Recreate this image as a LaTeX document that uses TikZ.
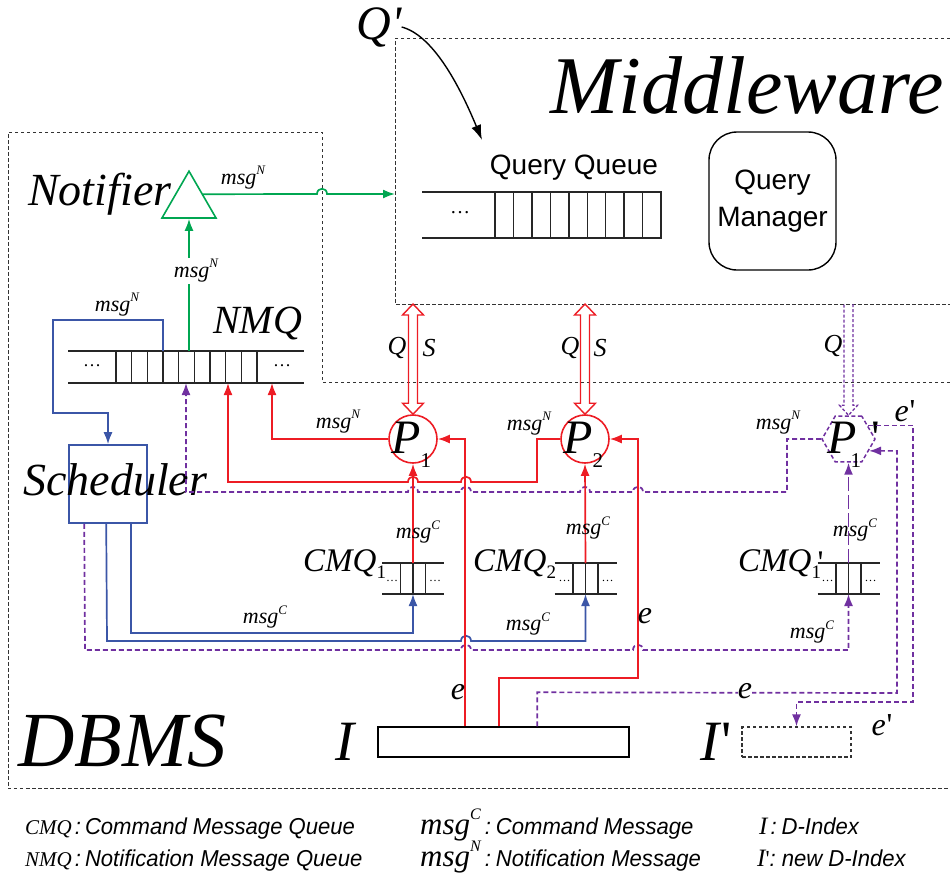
\documentclass[tikz,border=0pt]{standalone}
\usepackage{fontspec}
\setmainfont{Liberation Serif}
\setsansfont{Liberation Sans}
\newfontfamily\legendfont[FakeStretch=0.96]{Liberation Sans}
\usepackage{tikz}
\usetikzlibrary{
    positioning,
    calc,
    shapes.geometric,
    arrows.meta
}
\definecolor{dbred}{RGB}{237,28,36}
\definecolor{dbgreen}{RGB}{0,166,81}
\definecolor{dbblue}{RGB}{59,86,167}
\definecolor{dbpurple}{RGB}{112,48,160}

\newcommand{\fs}[1]{\fontsize{#1}{#1}\selectfont}
\newcommand{\msgl}[1]{\textit{msg}\raisebox{0.45em}{\fs{13}\textit{#1}}}
\newcommand{\prm}{\textquotesingle}
\newcommand{\legtxt}[1]{{\legendfont\fs{23}\itshape #1}}

\tikzset{
    >={Latex[length=12pt,width=9pt]},
    boxframe/.style={draw=black!80, line width=0.9pt, dash pattern=on 3.5pt off 2.5pt},
    qline/.style={draw=black!85, line width=1.4pt},
    redline/.style={draw=dbred, line width=1.7pt},
    greenline/.style={draw=dbgreen, line width=1.7pt},
    blueline/.style={draw=dbblue, line width=1.7pt},
    purpleline/.style={draw=dbpurple, line width=1.7pt, dash pattern=on 5pt off 3pt},
    qnode/.style={inner sep=0pt, outer sep=0pt},
    qdots/.style={font=\fs{16}, inner sep=0pt},
    lbl/.style={font=\fs{22}\itshape, inner sep=1pt},
    bigtxt/.style={font=\fs{#1}\itshape, inner sep=0pt}
}

% flecha doble Q/S
\newcommand{\qsarrow}[2]{%
    \draw[redline, line width=1.4pt] let \p1=(#1), \p2=(#2) in
        (\x1,\y1) -- (\x1+10.5pt,\y1-11pt) -- (\x1+4.5pt,\y1-11pt)
        -- (\x2+4.5pt,\y2+11pt) -- (\x2+10.5pt,\y2+11pt) -- (\x2,\y2)
        -- (\x2-10.5pt,\y2+11pt) -- (\x2-4.5pt,\y2+11pt)
        -- (\x1-4.5pt,\y1-11pt) -- (\x1-10.5pt,\y1-11pt) -- cycle;}

\begin{document}
\begin{tikzpicture}[
    x=1pt,
    y=-1pt
]
    \useasboundingbox (0,0) rectangle (950,876);

    % Marcos
    \draw[boxframe] (950,38) -- (395,38) -- (395,304) -- (950,304);
    \draw[boxframe] (950,382) -- (322,382) -- (322,132) -- (8,132) -- (8,788) -- (950,788);
    \coordinate (mwin) at (395,194);
    \coordinate (mwb)  at (395,304);

    \node[bigtxt=82, anchor=base west] (mwtxt) at (550,113) {Middleware};
    \node[bigtxt=78, anchor=base west] (dbtxt) at (18,766) {DBMS};

    % Query Queue y Query Manager
    \node[qnode, minimum width=239, minimum height=46] (qq) at (541.5,215) {};
    \draw[qline] (qq.north west) -- (qq.north east) -- (qq.south east) -- (qq.south west);
    \foreach \i in {1,...,9}
        \draw[qline] ($(qq.north east)+(-\i*18.44,0)$) -- ($(qq.south east)+(-\i*18.44,0)$);
    \node[qdots, font=\fs{20}] (qqdots) at (460,213) {\dots};
    \node[font=\sffamily\fs{28}, anchor=base] (qqtxt) at (574,174) {Query Queue};

    \node[draw, line width=1.4pt, rounded corners=28pt, minimum width=127, minimum height=138,
          align=center, font=\sffamily\fontsize{28}{37}\selectfont] (qm) at (772.5,201) {Query\\Manager};

    \node[bigtxt=48] (qp) at (379,27) {Q\prm};
    \coordinate (qqin) at (482,140);
    \draw[line width=1.4pt, -{Latex[length=15pt,width=10pt]}] (qp.east) .. controls (432,35) and (458,82) .. (qqin);

    % Notifier
    \node[regular polygon, regular polygon sides=3, draw=dbgreen, line width=1.6pt,
          minimum size=62.4, inner sep=0pt] (notif) at (189,202.4) {};
    \node[bigtxt=46, anchor=base west] (notiftxt) at (28,205) {Notifier};

    % NMQ
    \node[qnode, minimum width=236, minimum height=32] (nmq) at (186,367) {};
    \draw[qline] (nmq.north west) -- (nmq.north east) (nmq.south west) -- (nmq.south east);
    \foreach \i in {0,...,9}
        \draw[qline] ($(nmq.north west)+(48+\i*15.67,0)$) -- ($(nmq.south west)+(48+\i*15.67,0)$);
    \node[qdots, font=\fs{18}] (nmqdl) at (92,366) {\dots};
    \node[qdots, font=\fs{18}] (nmqdr) at (282,366) {\dots};
    \node[bigtxt=40, anchor=base west] (nmqtxt) at (213,333) {NMQ};

    % Scheduler
    \node[draw=dbblue, line width=1.6pt, minimum width=78, minimum height=78, inner sep=0pt] (sched) at (108,484) {};
    \node[bigtxt=46, anchor=base west] (schedtxt) at (23,495) {Scheduler};

    % Procesos
    \node[circle, draw=dbred, line width=1.6pt, minimum size=48, inner sep=0pt] (p1) at (413,439) {};
    \node[circle, draw=dbred, line width=1.6pt, minimum size=48, inner sep=0pt] (p2) at (585,439) {};
    \node[regular polygon, regular polygon sides=6, draw=dbpurple, line width=1.5pt,
          dash pattern=on 4pt off 2.5pt, minimum size=53, inner sep=0pt] (p1d) at (848.5,439) {};

    \node[anchor=base west, inner sep=0pt] (p1txt) at (391,453)
        {\fs{48}\itshape P\raisebox{-14pt}{\fs{21}\upshape 1}};
    \node[anchor=base west, inner sep=0pt] (p2txt) at (563,453)
        {\fs{48}\itshape P\raisebox{-14pt}{\fs{21}\upshape 2}};
    \node[anchor=base west, inner sep=0pt] (p1dtxt) at (827,453)
        {\fs{48}\itshape P\kern-6pt\raisebox{-14pt}{\fs{21}\upshape 1}\kern10pt{\upshape\prm}};

    % Colas de comandos
    \foreach \q/\x in {cmq1/413, cmq2/585.5, cmq1d/848.5} {
        \node[qnode, minimum width=62, minimum height=31] (\q) at (\x,578.5) {};
        \draw[qline] (\q.north west) -- (\q.north east) (\q.south west) -- (\q.south east)
            ($(\q.north)+(-12.5,0)$) -- ($(\q.south)+(-12.5,0)$)
            (\q.north) -- (\q.south)
            ($(\q.north)+(12.5,0)$) -- ($(\q.south)+(12.5,0)$);
        \node[qdots, font=\fs{12}] (\q dl) at ($(\q)+(-21,2)$) {\dots};
        \node[qdots, font=\fs{12}] (\q dr) at ($(\q)+(22,2)$) {\dots};
    }
    \node[bigtxt=33, anchor=base west] (cmq1txt) at (303,571) {CMQ\raisebox{-7pt}{\fs{19}\upshape 1}};
    \node[bigtxt=33, anchor=base west] (cmq2txt) at (473,571) {CMQ\raisebox{-7pt}{\fs{19}\upshape 2}};
    \node[bigtxt=33, anchor=base west] (cmq1dtxt) at (738,571)
        {CMQ\rlap{\raisebox{-7pt}{\fs{19}\upshape 1}}\kern6pt\raisebox{-2pt}{\upshape\prm}};

    % Indices
    \node[draw, line width=1.4pt, minimum width=251, minimum height=30, inner sep=0pt] (idx) at (503.5,742) {};
    \node[boxframe, line width=1.3pt, minimum width=109, minimum height=30, inner sep=0pt] (idxd) at (796.5,742) {};
    \node[bigtxt=57, anchor=base west] (idxtxt) at (335,760) {I};
    \node[bigtxt=57, anchor=base west] (idxdtxt) at (700,760) {I\kern2pt{\upshape\prm}};

    % Flechas Q/S
    \qsarrow{p1.north |- mwb}{p1.north}
    \qsarrow{p2.north |- mwb}{p2.north}
    \draw[draw=dbpurple, line width=1.3pt, dash pattern=on 3pt off 2pt]
        let \p1=(p1d.north |- mwb), \p2=(p1d.north) in
        (\x1+4.5pt,\y1) -- (\x2+4.5pt,\y2+10pt) -- (\x2+9pt,\y2+10pt) -- (\x2,\y2)
        -- (\x2-9pt,\y2+10pt) -- (\x2-4.5pt,\y2+10pt) -- (\x1-4.5pt,\y1);

    \node[bigtxt=26] (q1l) at (397,348) {Q};
    \node[bigtxt=26] (s1l) at (429,348) {S};
    \node[bigtxt=26] (q2l) at (570,348) {Q};
    \node[bigtxt=26] (s2l) at (600,348) {S};
    \node[bigtxt=26] (q3l) at (833,346) {Q};

    % Notificaciones
    \draw[greenline, ->] (notif.30) -- (317,194)
        .. controls (317,187) and (327,187) .. (327,194) -- (mwin);
    \draw[greenline, ->] (notif.south |- nmq.north) -- (notif.south);
    \draw[blueline, ->] ($(nmq.north west)+(95,0)$) -- (163,320) -- (53,320) -- (53,413) -| (sched.north);

    \draw[redline, ->] (p1.west) -| ($(nmq.south west)+(204,0)$);
    \draw[redline, ->] (p2.west) -- (537,439) -- (537,482)
        -- (471,482) .. controls (471,475) and (461,475) .. (461,482)
        -- (418,482) .. controls (418,475) and (408,475) .. (408,482)
        -| ($(nmq.south west)+(160,0)$);
    \draw[purpleline, ->] (p1d.west) -- (787,439) -- (787,492)
        -- (643,492) .. controls (643,485) and (633,485) .. (633,492)
        -- (590,492) .. controls (590,485) and (580,485) .. (580,492)
        -- (471,492) .. controls (471,485) and (461,485) .. (461,492)
        -- (418,492) .. controls (418,485) and (408,485) .. (408,492)
        -| ($(nmq.south west)+(118,0)$);

    % Comandos
    \draw[redline, ->] (cmq1.north) -- (p1.south);
    \draw[redline, ->] (cmq2.north) -- (p2.south);
    \draw[purpleline, dash pattern=on 14pt off 4pt, ->] (cmq1d.north) -- (p1d.south);

    \draw[blueline, ->] ($(sched.south west)+(63,0)$) |- ($(cmq1.south)+(0,39)$) -- (cmq1.south);
    \draw[blueline, ->] ($(sched.south west)+(38,0)$) -- (107,641)
        -- (461,641) .. controls (461,634) and (471,634) .. (471,641)
        -| (cmq2.south);
    \draw[purpleline, ->] ($(sched.south west)+(16,0)$) -- (85,650)
        -- (461,650) .. controls (461,643) and (471,643) .. (471,650)
        -- (633,650) .. controls (633,643) and (643,643) .. (643,650)
        -| (cmq1d.south);

    % Entradas del indice
    \draw[redline, ->] ($(idx.north west)+(88,0)$) |- (p1.east);
    \draw[redline, ->] ($(idx.north west)+(122,0)$) -- ++(0,-48) -| (638,439) -- (p2.east);
    \draw[purpleline, ->] ($(idx.north west)+(160,0)$) -- ++(0,-34) -- (897,693) |- (p1d.-30);
    \draw[purpleline, ->] (p1d.35) -| (913,702) -| (idxd.north);

    % Etiquetas
    \node[lbl] (m1) at (243,178) {\msgl{N}};
    \node[lbl, fill=white] (m2) at (196,271) {\msgl{N}};
    \node[lbl] (m3) at (117,305) {\msgl{N}};
    \node[lbl] (m4) at (338,422) {\msgl{N}};
    \node[lbl] (m5) at (529,424) {\msgl{N}};
    \node[lbl] (m6) at (778,423) {\msgl{N}};
    \node[lbl] (m7) at (418,532) {\msgl{C}};
    \node[lbl] (m8) at (588,528) {\msgl{C}};
    \node[lbl] (m9) at (855,530) {\msgl{C}};
    \node[lbl] (m10) at (265,617) {\msgl{C}};
    \node[lbl] (m11) at (528,624) {\msgl{C}};
    \node[lbl] (m12) at (812,632) {\msgl{C}};
    \node[bigtxt=32] (e1) at (458,692) {e};
    \node[bigtxt=32] (e2) at (645,616) {e};
    \node[bigtxt=32, fill=white] (e3) at (745,691) {e};
    \node[bigtxt=32] (e4) at (905,411) {e\kern1pt{\upshape\prm}};
    \node[bigtxt=32] (e5) at (882,725) {e\kern1pt{\upshape\prm}};

    % Leyenda
    \node[anchor=base west, inner sep=0pt] (leg1) at (25,834)
        {{\fs{21}\itshape CMQ}\kern3pt\legtxt{:\kern4pt Command Message Queue}};
    \node[anchor=base west, inner sep=0pt] (leg2) at (25,866)
        {{\fs{21}\itshape NMQ}\kern3pt\legtxt{:\kern4pt Notification Message Queue}};
    \node[anchor=base west, inner sep=0pt] (leg3) at (420,834)
        {{\fs{31}\itshape msg}\raisebox{15pt}{\fs{16}\itshape C}\kern4pt\legtxt{:\kern5pt Command Message}};
    \node[anchor=base west, inner sep=0pt] (leg4) at (420,866)
        {{\fs{31}\itshape msg}\raisebox{15pt}{\fs{16}\itshape N}\kern4pt\legtxt{:\kern5pt Notification Message}};
    \node[anchor=base west, inner sep=0pt] (leg5) at (759,834)
        {{\fs{25}\itshape I}\kern3pt\legtxt{:\kern5pt D-Index}};
    \node[anchor=base west, inner sep=0pt] (leg6) at (757,866)
        {{\fs{25}\itshape I}{\fs{23}\textquotesingle}\legtxt{:\kern6pt new D-Index}};

\end{tikzpicture}
\end{document}
